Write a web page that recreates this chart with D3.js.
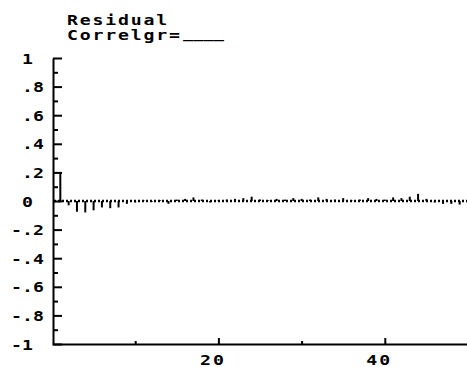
<!DOCTYPE html>
<html>
<head>
<meta charset="utf-8">
<script src="https://cdn.jsdelivr.net/npm/d3@7"></script>
<style>
  body { margin: 0; background: #fff; }
  svg { display: block; }
  text { font-family: "DejaVu Sans Mono", monospace; font-weight: bold; font-size: 14px; fill: #000; }
</style>
</head>
<body>
<svg id="chart" width="467" height="367"></svg>
<script>
// residual autocorrelation, lags 1..49
const lags = d3.range(1, 50);
const acf = [
  0.20, -0.03, -0.075, -0.08, -0.065, -0.045, -0.05, -0.045, -0.02, -0.01,
  0.005, -0.005, 0.005, -0.02, 0.01, 0.015, 0.025, 0.01, -0.01, 0.005,
  0.01, 0.015, 0.02, 0.03, 0.01, 0.005, 0.015, 0.01, 0.02, 0.015,
  0.01, 0.025, 0.015, 0.01, 0.02, 0.005, 0.01, 0.02, 0.015, 0.01,
  0.025, 0.02, 0.03, 0.05, 0.015, -0.01, -0.02, -0.02, -0.025
];
const yTicks = d3.range(-10, 11).map(d => d / 10);
const xTicks = [10, 20, 30, 40];
const titleLines = ["Residual", "Correlgr="];
const blank = "____";

const svg = d3.select("#chart");
const sx = 1.3; // wide bitmap-like glyphs

const x = d3.scaleLinear().domain([0, 50]).range([52, 468]);
const y = d3.scaleLinear().domain([-1, 1]).range([344, 58]);

const isMajor = d => Math.round(d * 10) % 2 === 0;
const fmtY = d => {
  if (d === 0) return "0";
  if (Math.abs(d) === 1) return String(d);
  return (d < 0 ? "-" : "") + Math.abs(d).toFixed(1).slice(1);
};

// title
svg.selectAll("text.title")
  .data(titleLines)
  .join("text")
  .attr("class", "title")
  .attr("transform", (d, i) => `translate(67,${25 + i * 15}) scale(${sx},1)`)
  .style("letter-spacing", "1.4px")
  .text(d => d);

svg.append("text")
  .attr("x", 183)
  .attr("y", 38)
  .attr("textLength", 41)
  .attr("lengthAdjust", "spacingAndGlyphs")
  .text(blank);

// y axis
const ax = x(0) + 1;
const yAxis = d3.axisLeft(y)
  .tickValues(yTicks)
  .tickSizeInner(-9)
  .tickSizeOuter(0)
  .tickPadding(0)
  .tickFormat(d => isMajor(d) ? fmtY(d) : "");

const gy = svg.append("g")
  .attr("transform", `translate(${ax},0)`)
  .call(yAxis);
gy.select(".domain").attr("stroke-width", 2);
gy.selectAll(".tick line")
  .attr("stroke-width", 2)
  .attr("x2", d => isMajor(d) ? 9 : 5);
gy.selectAll(".tick text")
  .attr("font-family", null)
  .attr("font-size", null)
  .attr("text-anchor", "start")
  .attr("x", null)
  .attr("dy", "0.36em")
  .attr("transform", d => `translate(${(d < 0 ? 11 : 22) - ax},0) scale(${sx},1)`);

// x axis
const xAxis = d3.axisBottom(x)
  .tickValues(xTicks)
  .tickSizeInner(-6)
  .tickSizeOuter(0)
  .tickPadding(0)
  .tickFormat(d => d % 20 === 0 ? d : "");

const gx = svg.append("g")
  .attr("transform", `translate(0,${y(-1)})`)
  .call(xAxis);
gx.select(".domain").attr("stroke-width", 2);
gx.selectAll(".tick line")
  .attr("stroke-width", 2)
  .attr("y2", d => d % 20 === 0 ? -6 : -3);
gx.selectAll(".tick text")
  .attr("font-family", null)
  .attr("font-size", null)
  .attr("text-anchor", "start")
  .attr("y", null)
  .attr("dy", null)
  .style("letter-spacing", "1.6px")
  .attr("transform", `translate(-19,21) scale(${sx},1)`);

// dotted zero line
svg.append("line")
  .attr("x1", x(0) + 2)
  .attr("x2", 467)
  .attr("y1", y(0))
  .attr("y2", y(0))
  .attr("stroke", "#000")
  .attr("stroke-width", 2.5)
  .attr("stroke-dasharray", "2,2");

// spikes
svg.selectAll("line.spike")
  .data(lags)
  .join("line")
  .attr("class", "spike")
  .attr("x1", d => x(d))
  .attr("x2", d => x(d))
  .attr("y1", y(0))
  .attr("y2", (d, i) => y(acf[i]))
  .attr("stroke", "#000")
  .attr("stroke-width", 2);
</script>
</body>
</html>
